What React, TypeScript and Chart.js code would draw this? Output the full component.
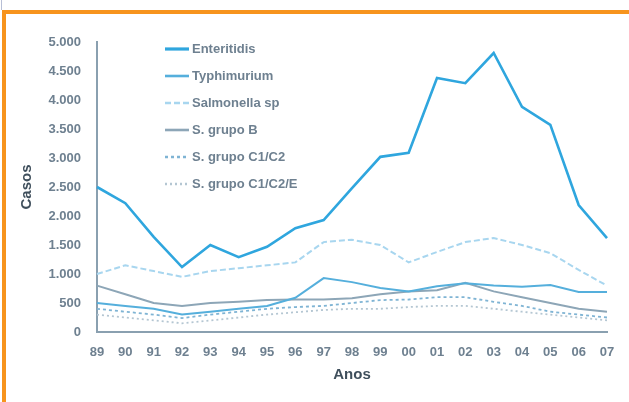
import React, { useEffect, useRef } from 'react';
import { Chart, registerables } from 'chart.js';

Chart.register(...registerables);

const years = ['89', '90', '91', '92', '93', '94', '95', '96', '97', '98', '99', '00', '01', '02', '03', '04', '05', '06', '07'];

const seriesNames = ['Enteritidis', 'Typhimurium', 'Salmonella sp', 'S. grupo B', 'S. grupo C1/C2', 'S. grupo C1/C2/E'];

const enteritidis = [2500, 2220, 1640, 1120, 1500, 1290, 1470, 1790, 1930, 2480, 3020, 3090, 4380, 4290, 4810, 3880, 3570, 2190, 1620];
const typhimurium = [500, 450, 400, 300, 350, 400, 450, 590, 930, 860, 760, 700, 790, 840, 800, 780, 810, 690, 690];
const salmonellaSp = [1000, 1150, 1050, 950, 1050, 1100, 1150, 1200, 1550, 1590, 1500, 1200, 1380, 1550, 1620, 1500, 1360, 1070, 800];
const grupoB = [800, 650, 500, 450, 500, 520, 550, 560, 560, 580, 650, 700, 720, 850, 700, 600, 500, 400, 350];
const grupoC = [400, 350, 300, 240, 300, 350, 400, 430, 450, 500, 550, 560, 600, 600, 520, 450, 350, 300, 250];
const grupoCE = [300, 250, 200, 150, 200, 250, 300, 340, 380, 400, 400, 430, 450, 450, 400, 350, 300, 250, 200];

const seriesValues = [enteritidis, typhimurium, salmonellaSp, grupoB, grupoC, grupoCE];
const seriesColors = ['#2fa6de', '#55afdc', '#a8d6ef', '#8da6b7', '#7fb4d4', '#b4c6d2'];
const seriesWidths = [2.6, 2, 2, 2, 1.8, 1.8];
const seriesDashes: number[][] = [[], [], [6, 3], [], [3, 3], [2, 3]];

const yMin = 0;
const yMax = 5000;
const yStep = 500;

function fmt(v: number): string {
  if (v >= 1000) {
    const th = Math.floor(v / 1000);
    const rest = v % 1000;
    return `${th}.${String(rest).padStart(3, '0')}`;
  }
  return String(v);
}

const FONT = 'Liberation Sans, Arial, sans-serif';

export default function App() {
  const ref = useRef<HTMLCanvasElement | null>(null);

  useEffect(() => {
    if (!ref.current) return;
    const chart = new Chart(ref.current, {
      type: 'line',
      data: {
        labels: years,
        datasets: seriesValues.map((vals, i) => ({
          label: seriesNames[i],
          data: vals,
          borderColor: seriesColors[i],
          backgroundColor: seriesColors[i],
          borderWidth: seriesWidths[i],
          borderDash: seriesDashes[i],
          pointRadius: 0,
          tension: 0,
          fill: false,
        })),
      },
      options: {
        animation: false,
        responsive: false,
        maintainAspectRatio: false,
        layout: { padding: { left: 18, right: 22, top: 42, bottom: 14 } },
        plugins: {
          legend: { display: false },
          tooltip: { enabled: false },
        },
        scales: {
          x: {
            offset: false,
            grid: { display: false },
            border: { display: true, color: '#8aa0b0', width: 2 },
            ticks: {
              color: '#6e8090',
              padding: 5,
              maxRotation: 0,
              autoSkip: false,
              font: { family: FONT, size: 13, weight: 'bold' },
            },
            title: {
              display: true,
              text: 'Anos',
              color: '#3f4f5c',
              padding: { top: 0, bottom: 4 },
              font: { family: FONT, size: 15, weight: 'bold' },
            },
            afterFit: (scale: any) => {
              scale.height = 56;
            },
          },
          y: {
            min: yMin,
            max: yMax,
            grid: { display: false },
            border: { display: true, color: '#8aa0b0', width: 2 },
            ticks: {
              stepSize: yStep,
              color: '#6e8090',
              padding: 8,
              callback: (v: any) => fmt(Number(v)),
              font: { family: FONT, size: 13, weight: 'bold' },
            },
            title: {
              display: true,
              text: 'Casos',
              color: '#3f4f5c',
              padding: { top: 0, bottom: 2 },
              font: { family: FONT, size: 15, weight: 'bold' },
            },
            afterFit: (scale: any) => {
              scale.width = 79;
            },
          },
        },
      },
    });
    return () => chart.destroy();
  }, []);

  return (
    <div style={{ position: 'fixed', left: 0, top: 0, width: 629, height: 402, background: '#ffffff', overflow: 'hidden' }}>
      <div style={{ position: 'absolute', left: 1, top: 0, width: 1, height: 10, background: '#b7bfd6' }} />
      <div
        style={{
          position: 'absolute',
          left: 2,
          top: 10,
          width: 627,
          height: 392,
          boxSizing: 'border-box',
          borderTop: '4px solid #f7941d',
          borderLeft: '4px solid #f7941d',
        }}
      />
      <canvas ref={ref} width={629} height={402} style={{ position: 'absolute', left: 0, top: 0, width: 629, height: 402 }} />
      <div style={{ position: 'absolute', left: 165, top: 35, fontFamily: FONT, fontSize: 13, fontWeight: 'bold', color: '#6e8090' }}>
        {seriesNames.map((name, i) => (
          <div key={name} style={{ display: 'flex', alignItems: 'center', height: 27 }}>
            <svg width={24} height={6} style={{ marginRight: 3 }}>
              <line
                x1={0}
                y1={3}
                x2={24}
                y2={3}
                stroke={seriesColors[i]}
                strokeWidth={seriesWidths[i] + 0.6}
                strokeDasharray={seriesDashes[i].length ? seriesDashes[i].join(',') : undefined}
              />
            </svg>
            <span>{name}</span>
          </div>
        ))}
      </div>
    </div>
  );
}
